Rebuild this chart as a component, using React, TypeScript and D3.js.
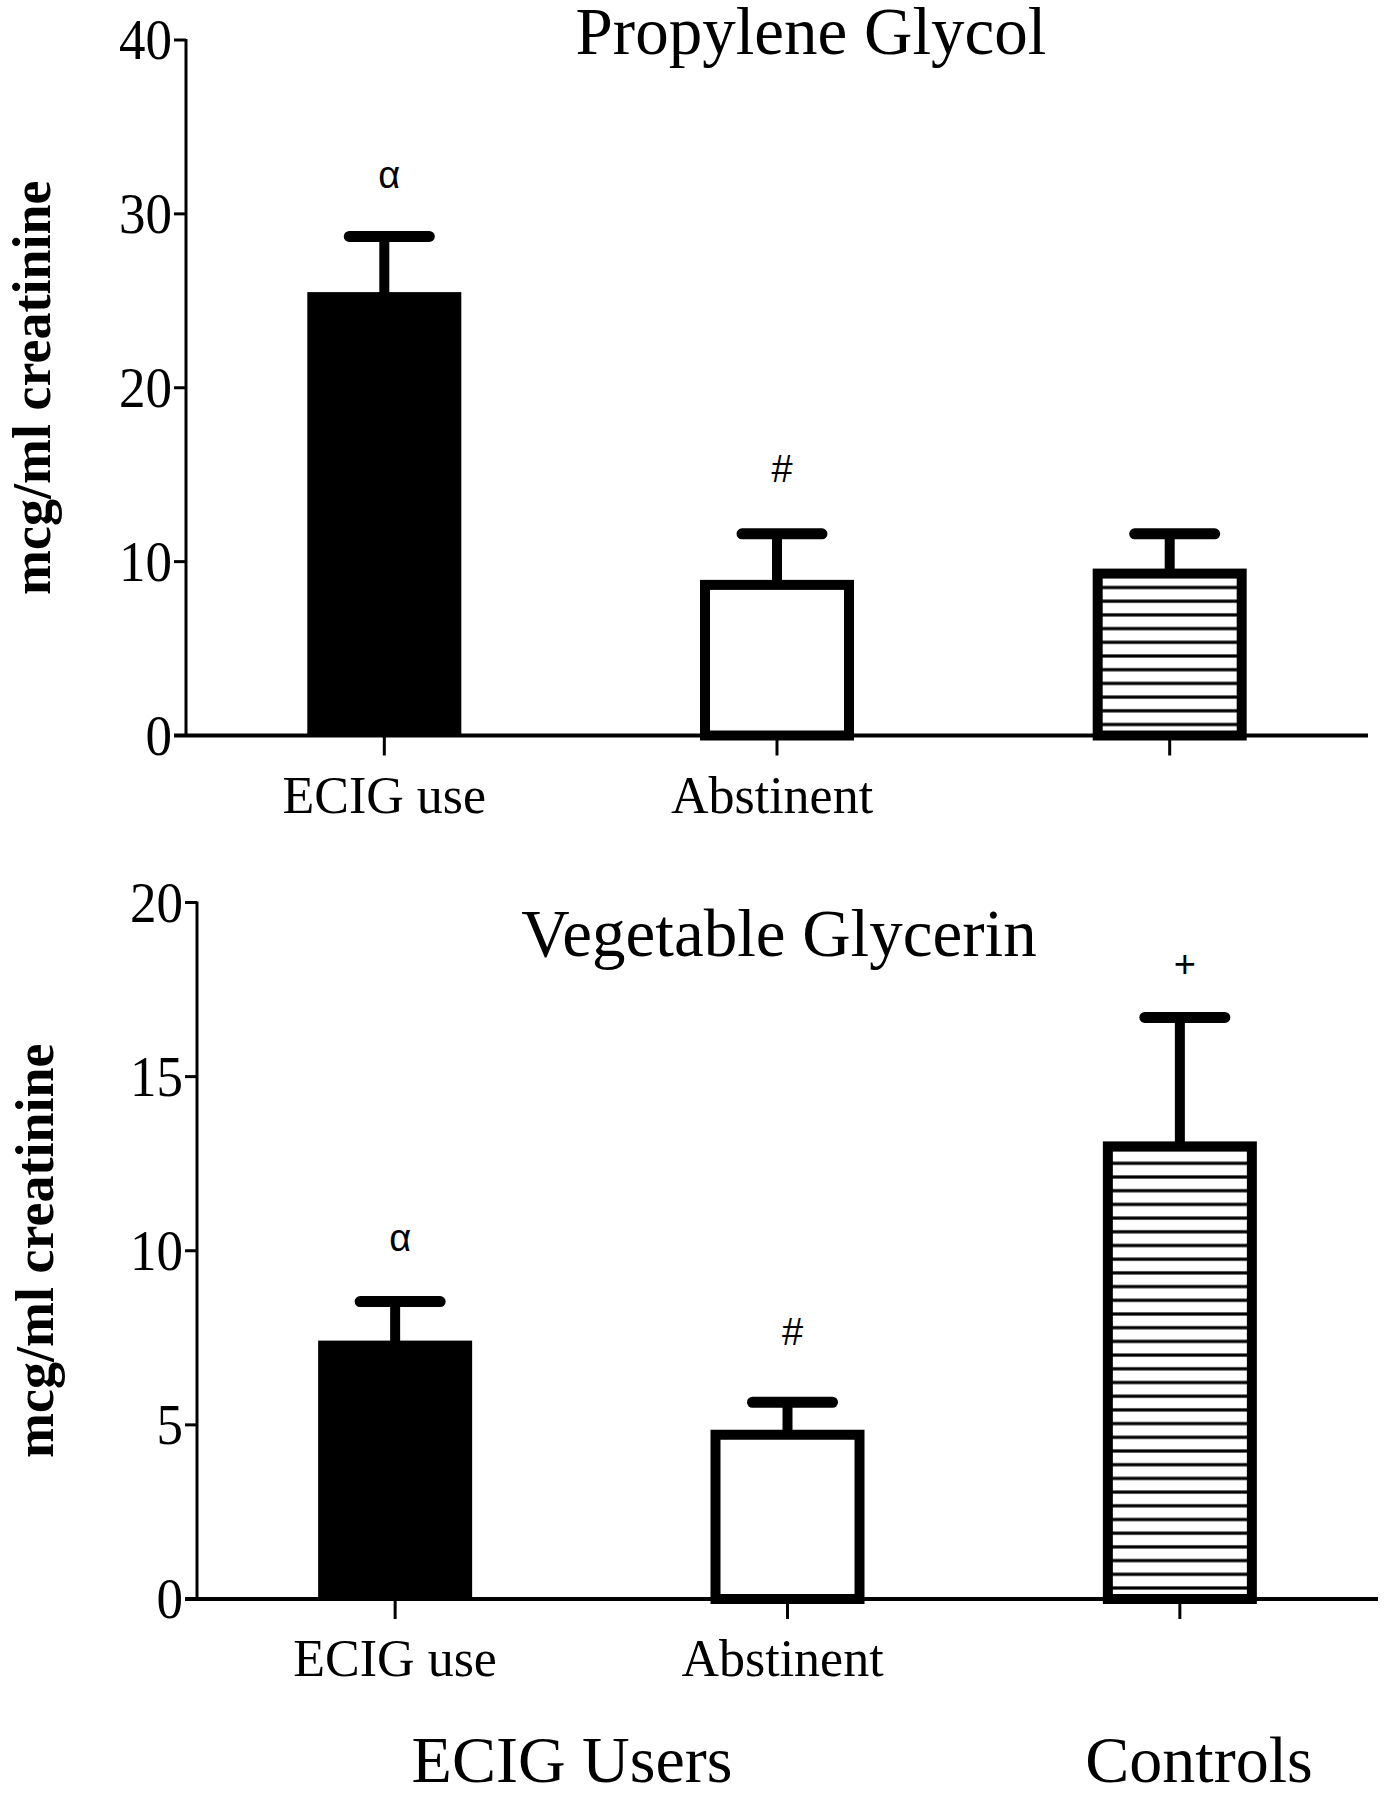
import React from "react";
import * as d3 from "d3";

const categories = ["ECIG use", "Abstinent", "Controls"];
const categoryLabels = ["ECIG use", "Abstinent", ""];
const barStyles = ["solid", "open", "hatch"];

const pgTitle = "Propylene Glycol";
const pgMeans = [25.5, 8.95, 9.6];
const pgUpper = [28.7, 11.6, 11.6];
const pgTicks = [0, 10, 20, 30, 40];
const pgMarks = ["α", "#", ""];
const pgMarkValues = [31.5, 14.6, 0];

const vgTitle = "Vegetable Glycerin";
const vgMeans = [7.42, 4.86, 13.14];
const vgUpper = [8.54, 5.65, 16.7];
const vgTicks = [0, 5, 10, 15, 20];
const vgMarks = ["α", "#", "+"];
const vgMarkValues = [10.0, 7.3, 17.85];

const groupLabels = ["ECIG Users", "Controls"];

const yTitle = "mcg/ml creatinine";

const SERIF = "'Liberation Serif', 'Times New Roman', serif";
const SANS = "'Liberation Sans', Arial, sans-serif";

type PanelProps = {
  id: string;
  title: string;
  means: number[];
  upper: number[];
  ticks: number[];
  marks: string[];
  markValues: number[];
  x0: number;
  x1: number;
  yTop: number;
  yBottom: number;
  titleX: number;
  titleY: number;
  yTitleX: number;
};

function Panel(p: PanelProps) {
  const yMax = p.ticks[p.ticks.length - 1];
  const y = d3.scaleLinear().domain([0, yMax]).range([p.yBottom, p.yTop]);
  const x = d3.scalePoint<string>().domain(categories).range([p.x0, p.x1]).padding(0.505);
  const barW = 154;
  const sw = 10;
  const capW = 80;
  const hatchStep = 13.7;
  const tickSX = 0.93;
  return (
    <g>
      <defs>
        <pattern
          id={`hatch-${p.id}`}
          patternUnits="userSpaceOnUse"
          width={20}
          height={hatchStep}
          patternTransform={`translate(0, ${p.yBottom - 11})`}
        >
          <rect x={0} y={0} width={20} height={hatchStep} fill="#fff" />
          <rect x={0} y={-1.6} width={20} height={3.2} fill="#000" />
          <rect x={0} y={hatchStep - 1.6} width={20} height={3.2} fill="#000" />
        </pattern>
      </defs>
      {/* title */}
      <text x={p.titleX} y={p.titleY} fontFamily={SERIF} fontSize={67} textAnchor="middle">
        {p.title}
      </text>
      {/* y title */}
      <text
        transform={`translate(${p.yTitleX}, ${(p.yTop + p.yBottom) / 2}) rotate(-90)`}
        fontFamily={SERIF}
        fontSize={54}
        fontWeight="bold"
        textAnchor="middle"
        dominantBaseline="central"
      >
        {yTitle}
      </text>
      {/* bars */}
      {categories.map((c, i) => {
        const cx = x(c) as number;
        const top = y(p.means[i]);
        const style = barStyles[i];
        const errTop = y(p.upper[i]);
        return (
          <g key={c}>
            <line x1={cx} x2={cx} y1={top + 2} y2={errTop} stroke="#000" strokeWidth={10} />
            <line
              x1={cx - capW / 2 + 5}
              x2={cx + capW / 2 + 5}
              y1={errTop}
              y2={errTop}
              stroke="#000"
              strokeWidth={11}
              strokeLinecap="round"
            />
            {style === "solid" ? (
              <rect x={cx - barW / 2} y={top} width={barW} height={p.yBottom - top} fill="#000" />
            ) : (
              <rect
                x={cx - barW / 2 + sw / 2}
                y={top + sw / 2}
                width={barW - sw}
                height={p.yBottom - top - sw / 2}
                fill={style === "hatch" ? `url(#hatch-${p.id})` : "#fff"}
                stroke="#000"
                strokeWidth={sw}
              />
            )}
            {p.marks[i] ? (
              <text
                x={cx + 5}
                y={y(p.markValues[i])}
                fontFamily={SANS}
                fontSize={38}
                textAnchor="middle"
              >
                {p.marks[i]}
              </text>
            ) : null}
          </g>
        );
      })}
      {/* y axis */}
      <line x1={p.x0} x2={p.x0} y1={p.yTop - 1} y2={p.yBottom} stroke="#000" strokeWidth={3} />
      {p.ticks.map((t) => (
        <g key={t}>
          <line x1={p.x0 - 12} x2={p.x0} y1={y(t)} y2={y(t)} stroke="#000" strokeWidth={3} />
          <text
            x={p.x0 - 14}
            y={y(t)}
            fontFamily={SERIF}
            fontSize={57}
            textAnchor="end"
            dominantBaseline="central"
            transform={`translate(${(p.x0 - 14) * (1 - tickSX)}, 0) scale(${tickSX}, 1)`}
          >
            {t}
          </text>
        </g>
      ))}
      {/* x axis */}
      <line x1={p.x0 - 12} x2={p.x1} y1={p.yBottom} y2={p.yBottom} stroke="#000" strokeWidth={4} />
      {categories.map((c, i) => {
        const cx = x(c) as number;
        return (
          <g key={c}>
            <line x1={cx} x2={cx} y1={p.yBottom} y2={p.yBottom + 20} stroke="#000" strokeWidth={3} />
            <text x={cx - (i === 1 ? 5 : 0)} y={p.yBottom + 77} fontFamily={SERIF} fontSize={52} textAnchor="middle">
              {categoryLabels[i]}
            </text>
          </g>
        );
      })}
    </g>
  );
}

export default function App() {
  return (
    <svg
      width={1384}
      height={1794}
      style={{ position: "absolute", left: 0, top: 0, background: "#fff" }}
    >
      <rect x={0} y={0} width={1384} height={1794} fill="#fff" />
      <Panel
        id="pg"
        title={pgTitle}
        means={pgMeans}
        upper={pgUpper}
        ticks={pgTicks}
        marks={pgMarks}
        markValues={pgMarkValues}
        x0={186}
        x1={1368}
        yTop={40}
        yBottom={735.5}
        titleX={811}
        titleY={54}
        yTitleX={32}
      />
      <Panel
        id="vg"
        title={vgTitle}
        means={vgMeans}
        upper={vgUpper}
        ticks={vgTicks}
        marks={vgMarks}
        markValues={vgMarkValues}
        x0={197}
        x1={1378}
        yTop={902.5}
        yBottom={1599}
        titleX={779}
        titleY={956}
        yTitleX={35}
      />
      <text x={572} y={1782} fontFamily={SERIF} fontSize={66} textAnchor="middle">
        {groupLabels[0]}
      </text>
      <text x={1199} y={1782} fontFamily={SERIF} fontSize={66} textAnchor="middle">
        {groupLabels[1]}
      </text>
    </svg>
  );
}
